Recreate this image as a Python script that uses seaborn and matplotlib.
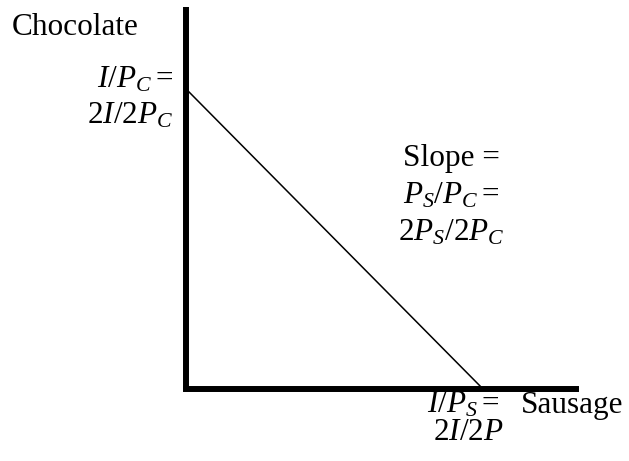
import matplotlib
matplotlib.use('Agg')
import matplotlib.pyplot as plt
import seaborn as sns
import pandas as pd

sns.set_style('white')
plt.rcParams['font.family'] = ['Liberation Serif', 'DejaVu Serif']
plt.rcParams['text.color'] = 'black'
plt.rcParams['mathtext.fontset'] = 'custom'
plt.rcParams['mathtext.rm'] = 'Liberation Serif'
plt.rcParams['mathtext.it'] = 'Liberation Serif:italic'
plt.rcParams['mathtext.bf'] = 'Liberation Serif:bold'

# budget line: intercepts I/Ps on sausage axis, I/Pc on chocolate axis
sausage = [0, 1.0]
chocolate = [1.0, 0]

df = pd.DataFrame({'Sausage': sausage, 'Chocolate': chocolate})

W, H = 629, 461
fig = plt.figure(figsize=(W / 100, H / 100), dpi=100)
ax = fig.add_axes([186 / W, 1 - 389 / H, (576 - 186) / W, (389 - 7) / H])

sns.lineplot(data=df, x='Sausage', y='Chocolate', color='black', linewidth=1.1, ax=ax)
ax.set_xlim(0, 1.313)
ax.set_ylim(0, 1.273)

sns.despine(ax=ax)
for s in ['left', 'bottom']:
    ax.spines[s].set_linewidth(4.3)
    ax.spines[s].set_color('black')
ax.spines['left'].set_capstyle('butt')
ax.spines['bottom'].set_capstyle('projecting')
ax.set_xticks([])
ax.set_yticks([])
ax.set_xlabel('')
ax.set_ylabel('')

fs = 22.5


def px(x, y):
    return x / W, 1 - y / H


fig.text(*px(12, 35), 'Chocolate', fontsize=fs, va='baseline', ha='left')
fig.text(*px(173, 88), r'$I/P_C =$', fontsize=fs, va='baseline', ha='right')
fig.text(*px(173, 124), r'$2I/2P_C$', fontsize=fs, va='baseline', ha='right')

fig.text(*px(451, 166), 'Slope =', fontsize=fs, va='baseline', ha='center')
fig.text(*px(451, 203), r'$P_S/P_C =$', fontsize=fs, va='baseline', ha='center')
fig.text(*px(451, 240), r'$2P_S/2P_C$', fontsize=fs, va='baseline', ha='center')

fig.text(*px(427, 412), r'$I/P_S =$', fontsize=fs, va='baseline', ha='left')
fig.text(*px(521, 413), 'Sausage', fontsize=fs, va='baseline', ha='left')
fig.text(*px(433, 440), r'$2I/2P$', fontsize=fs, va='baseline', ha='left')

fig.savefig('out.png', dpi=100)
